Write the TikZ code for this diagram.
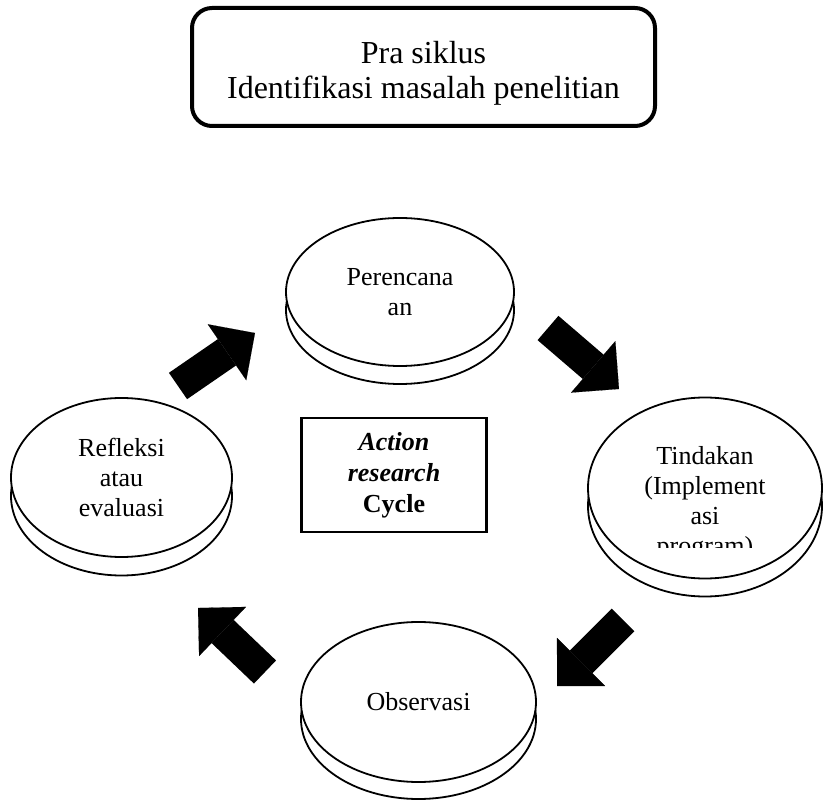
\documentclass[tikz,border=0pt]{standalone}
\usepackage{fontspec}
\setmainfont{Liberation Serif}
\usetikzlibrary{shapes.geometric,arrows.meta,positioning,calc}
\tikzset{
    % Round-cornered title box
    title box/.style={
        rectangle,
        rounded corners=20pt,
        draw=black,
        line width=4pt,
        fill=white,
        minimum width=463pt,
        minimum height=118pt,
        align=center,
        font=\fontsize{32}{35}\selectfont
    },
    % Discs of the cycle
    disc/.style={
        ellipse,
        draw=black,
        line width=1.8pt,
        fill=white,
        inner sep=0pt,
        align=center,
        font=\fontsize{26}{30}\selectfont
    },
    disc text/.style={
        inner sep=0pt,
        align=center,
        font=\fontsize{26}{30}\selectfont
    },
    cycle box/.style={
        rectangle,
        draw=black,
        line width=2.5pt,
        fill=white,
        minimum width=185pt,
        minimum height=114pt,
        align=center,
        font=\fontsize{26}{31}\selectfont\bfseries
    },
    block arrow/.style={
        line width=32pt,
        -{Triangle[length=34pt,width=68pt,line width=0.1pt]},
        color=black
    }
}

\begin{document}
\begin{tikzpicture}[x=1pt, y=-1pt]
        \useasboundingbox (0,0) rectangle (823,802);

        % Title
        \node[title box] (pra) at (423.5,67) {\rule{0pt}{34pt}Pra siklus\\Identifikasi masalah penelitian};

        % Discs
        \node[disc, minimum width=228pt, minimum height=148pt] (planbase) at (400,310) {};
        \node[disc, minimum width=228pt, minimum height=148pt] (plan) at (400,292) {Perencana\\an};

        \node[disc, minimum width=234pt, minimum height=181pt] (actbase) at (705,506) {};
        \node[disc, minimum width=234pt, minimum height=181pt] (act) at (705,488) {};
        \begin{scope}
            \clip (580,380) rectangle (823,548);
            \node[disc text] (acttext) at (705,503.5) {Tindakan\\(Implement\\asi\\program)};
        \end{scope}

        \node[disc, minimum width=235pt, minimum height=160pt] (obsbase) at (418.5,719) {};
        \node[disc, minimum width=235pt, minimum height=160pt] (obs) at (418.5,702) {Observasi};

        \node[disc, minimum width=221pt, minimum height=159pt] (reflbase) at (121.5,496) {};
        \node[disc, minimum width=221pt, minimum height=159pt] (refl) at (121.5,477.5) {Refleksi\\atau\\evaluasi};

        % Centre label
        \node[cycle box] (cycle) at (394,475) {{\itshape Action}\\{\itshape research}\\Cycle};

        % Arrows
        \coordinate (a1s) at (178,386);
        \coordinate (a1e) at (255,333);
        \coordinate (a2s) at (548,328);
        \coordinate (a2e) at (619,389);
        \coordinate (a3s) at (623,620);
        \coordinate (a3e) at (557,686);
        \coordinate (a4s) at (265,672);
        \coordinate (a4e) at (198,608);
        \draw[block arrow] (a1s) -- (a1e);
        \draw[block arrow] (a2s) -- (a2e);
        \draw[block arrow] (a3s) -- (a3e);
        \draw[block arrow] (a4s) -- (a4e);
    \end{tikzpicture}
\end{document}
